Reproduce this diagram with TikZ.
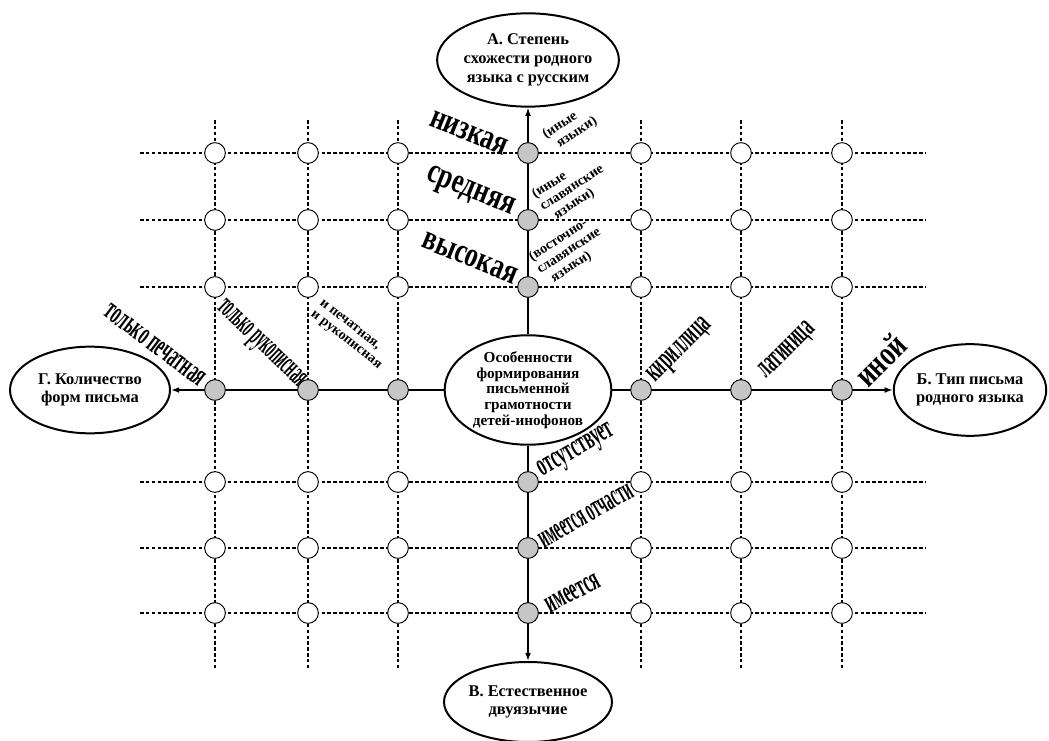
\documentclass[tikz,border=0pt]{standalone}
\usepackage{fontspec}
\setmainfont{Liberation Serif}
\usetikzlibrary{shapes.geometric,arrows.meta}

\tikzset{
  factor/.style={ellipse, draw, line width=1.7pt, align=center, inner sep=0pt,
    font=\fontsize{14}{16}\selectfont\bfseries},
  onaxis/.style={circle, draw, line width=0.8pt, fill=gray!45, minimum size=0.62cm, inner sep=0pt},
  offaxis/.style={circle, draw, line width=0.8pt, fill=white, minimum size=0.62cm, inner sep=0pt},
  gridline/.style={line width=0.9pt, dash pattern=on 3pt off 2pt},
  axisline/.style={line width=1.2pt, -{Latex[length=7pt,width=5pt]}},
  degree/.style={font=\fontsize{24}{24}\selectfont\bfseries, inner sep=0pt, xscale=0.92, yscale=1.25},
  grouplabel/.style={font=\fontsize{12}{12.5}\selectfont\bfseries, align=left, inner sep=0pt},
  squeezed/.style={font=\fontsize{22}{22}\selectfont\bfseries, inner sep=0pt, xscale=0.62, yscale=1.25}
}

\begin{document}
\begin{tikzpicture}[x=0.03cm, y=-0.03cm]
    \useasboundingbox (0,0) rectangle (1049,741);

%Factors
    \node[factor, minimum width=4.6cm, minimum height=2.8cm] (facA) at (528,60) {А. Степень\\схожести родного\\языка с русским};
    \node[factor, minimum width=4.4cm, minimum height=2.75cm] (facB) at (970,390) {Б. Тип письма\\родного языка};
    \node[factor, minimum width=4.1cm, minimum height=2.4cm] (facV) at (528,702) {В. Естественное\\двуязычие};
    \node[factor, minimum width=4.8cm, minimum height=2.6cm] (facG) at (90,390) {Г. Количество\\форм письма};
    \node[factor, minimum width=5cm, minimum height=2.65cm, font=\fontsize{13}{13.5}\selectfont\bfseries] (core) at (528,390) {Особенности\\формирования\\письменной\\грамотности\\детей-инофонов};

%Grid ends
    \coordinate (r1w) at (140,153); \coordinate (r1e) at (925,153);
    \coordinate (r2w) at (140,220); \coordinate (r2e) at (925,220);
    \coordinate (r3w) at (140,287); \coordinate (r3e) at (925,287);
    \coordinate (r5w) at (140,482); \coordinate (r5e) at (925,482);
    \coordinate (r6w) at (140,548); \coordinate (r6e) at (925,548);
    \coordinate (r7w) at (140,613); \coordinate (r7e) at (925,613);

    \coordinate (c1n) at (215,120); \coordinate (c1s) at (215,668);
    \coordinate (c2n) at (308,120); \coordinate (c2s) at (308,668);
    \coordinate (c3n) at (398,120); \coordinate (c3s) at (398,668);
    \coordinate (c5n) at (641,120); \coordinate (c5s) at (641,668);
    \coordinate (c6n) at (741,120); \coordinate (c6s) at (741,668);
    \coordinate (c7n) at (842,120); \coordinate (c7s) at (842,668);

%Dashed grid
    \draw[gridline] (r1w) -- (r1e);
    \draw[gridline] (r2w) -- (r2e);
    \draw[gridline] (r3w) -- (r3e);
    \draw[gridline] (r5w) -- (r5e);
    \draw[gridline] (r6w) -- (r6e);
    \draw[gridline] (r7w) -- (r7e);

    \draw[gridline] (c1n) -- (c1s);
    \draw[gridline] (c2n) -- (c2s);
    \draw[gridline] (c3n) -- (c3s);
    \draw[gridline] (c5n) -- (c5s);
    \draw[gridline] (c6n) -- (c6s);
    \draw[gridline] (c7n) -- (c7s);

%Axes
    \draw[axisline] (core.north) -- (facA.south);
    \draw[axisline] (core.east) -- (facB.west);
    \draw[axisline] (core.south) -- (facV.north);
    \draw[axisline] (core.west) -- (facG.east);

%Points on the axes
    \node[onaxis] (a1) at (528,153) {};
    \node[onaxis] (a2) at (528,220) {};
    \node[onaxis] (a3) at (528,287) {};
    \node[onaxis] (v1) at (528,482) {};
    \node[onaxis] (v2) at (528,548) {};
    \node[onaxis] (v3) at (528,613) {};
    \node[onaxis] (g1) at (215,390) {};
    \node[onaxis] (g2) at (308,390) {};
    \node[onaxis] (g3) at (398,390) {};
    \node[onaxis] (b1) at (641,390) {};
    \node[onaxis] (b2) at (741,390) {};
    \node[onaxis] (b3) at (842,390) {};

%Open points, upper half
    \node[offaxis] (p11) at (215,153) {}; \node[offaxis] (p21) at (308,153) {}; \node[offaxis] (p31) at (398,153) {};
    \node[offaxis] (p51) at (641,153) {}; \node[offaxis] (p61) at (741,153) {}; \node[offaxis] (p71) at (842,153) {};
    \node[offaxis] (p12) at (215,220) {}; \node[offaxis] (p22) at (308,220) {}; \node[offaxis] (p32) at (398,220) {};
    \node[offaxis] (p52) at (641,220) {}; \node[offaxis] (p62) at (741,220) {}; \node[offaxis] (p72) at (842,220) {};
    \node[offaxis] (p13) at (215,287) {}; \node[offaxis] (p23) at (308,287) {}; \node[offaxis] (p33) at (398,287) {};
    \node[offaxis] (p53) at (641,287) {}; \node[offaxis] (p63) at (741,287) {}; \node[offaxis] (p73) at (842,287) {};

%Open points, lower half
    \node[offaxis] (p15) at (215,482) {}; \node[offaxis] (p25) at (308,482) {}; \node[offaxis] (p35) at (398,482) {};
    \node[offaxis] (p55) at (641,482) {}; \node[offaxis] (p65) at (741,482) {}; \node[offaxis] (p75) at (842,482) {};
    \node[offaxis] (p16) at (215,548) {}; \node[offaxis] (p26) at (308,548) {}; \node[offaxis] (p36) at (398,548) {};
    \node[offaxis] (p56) at (641,548) {}; \node[offaxis] (p66) at (741,548) {}; \node[offaxis] (p76) at (842,548) {};
    \node[offaxis] (p17) at (215,613) {}; \node[offaxis] (p27) at (308,613) {}; \node[offaxis] (p37) at (398,613) {};
    \node[offaxis] (p57) at (641,613) {}; \node[offaxis] (p67) at (741,613) {}; \node[offaxis] (p77) at (842,613) {};

%Labels for A
    \node[rotate=-22, degree] (lowA) at (469,133) {низкая};
    \node[rotate=-22, degree] (midA) at (470,193) {средняя};
    \node[rotate=-22, degree] (highA) at (470,258) {высокая};
    \node[rotate=33, grouplabel] (lowAn) at (570,128) {(иные\\\ \ языки)};
    \node[rotate=33, grouplabel] (midAn) at (572,188) {(иные\\славянские\\\ \ языки)};
    \node[rotate=33, grouplabel] (highAn) at (569,251) {(восточно-\\славянские\\\ \ языки)};

%Labels for B
    \node[rotate=45, squeezed] (cyrB) at (681,351) {кириллица};
    \node[rotate=45, squeezed] (latB) at (788,351) {латиница};
    \node[rotate=45, degree] (othB) at (880,360) {иной};

%Labels for V
    \node[rotate=30, squeezed] (noV) at (577,452) {отсутствует};
    \node[rotate=30, squeezed, xscale=0.88] (partV) at (586,516) {имеется отчасти};
    \node[rotate=28, squeezed] (yesV) at (573,593) {имеется};

%Labels for G
    \node[rotate=-37, squeezed] (printG) at (155,345) {только печатная};
    \node[rotate=-44, squeezed, xscale=0.82] (handG) at (260,345) {только рукописная};
    \node[rotate=-38, grouplabel] (bothG) at (350,335) {и печатная,\\и рукописная};

\end{tikzpicture}
\end{document}
